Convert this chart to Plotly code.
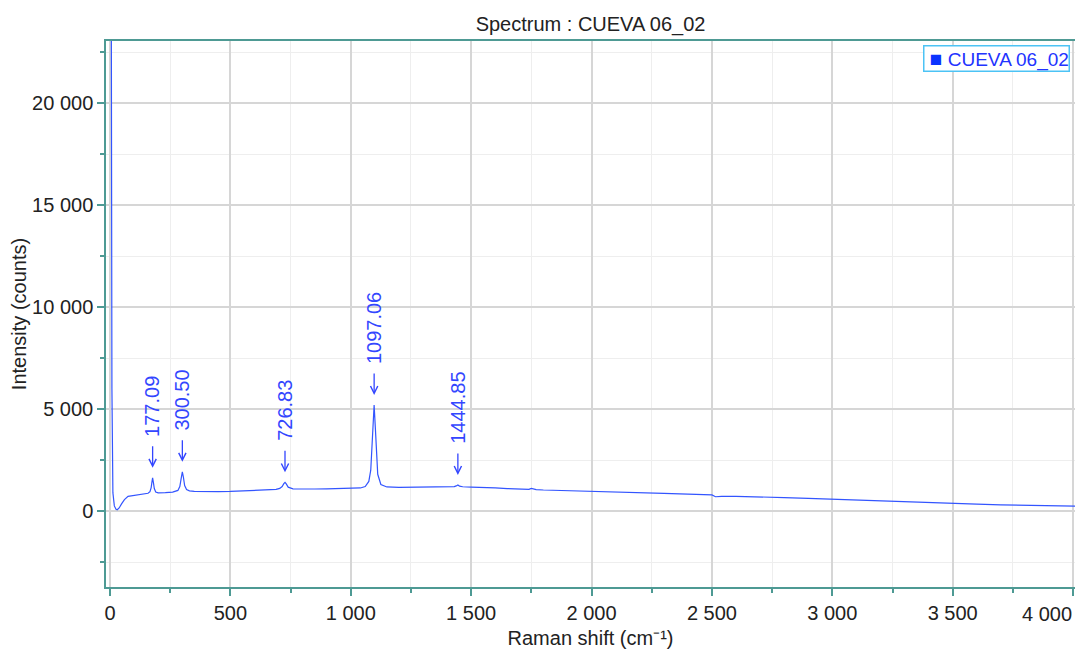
import plotly.graph_objects as go

# ---- data ----
raman_shift = [3, 5, 8, 12, 18, 25, 30, 38, 48, 60, 75, 100, 130, 150, 158, 166, 171, 174, 177, 180,
               184, 190, 200, 230, 260, 282, 290, 295, 300.5, 305, 310, 318, 330, 350, 400, 450,
               500, 550, 600, 650, 690, 705, 715, 722, 727, 732, 740, 760, 800, 850, 900, 950, 1000,
               1040, 1060, 1075, 1083, 1088, 1092, 1097, 1102, 1106, 1112, 1125, 1150, 1200, 1250,
               1300, 1350, 1400, 1430, 1438, 1445, 1452, 1465, 1500, 1550, 1600, 1650, 1700, 1740,
               1750, 1758, 1770, 1800, 1900, 2000, 2100, 2200, 2300, 2400, 2480, 2500, 2515, 2540,
               2600, 2700, 2800, 2900, 3000, 3100, 3200, 3300, 3400, 3500, 3600, 3700, 3800, 3900,
               4000, 4012]
intensity = [30000, 28000, 6000, 900, 250, 80, 60, 150, 350, 560, 720, 760, 800, 840, 870, 950,
             1150, 1400, 1630, 1420, 1100, 930, 890, 900, 930, 1010, 1200, 1550, 1925, 1650, 1250,
             1050, 990, 960, 940, 950, 960, 980, 995, 1020, 1060, 1110, 1200, 1340, 1405, 1330,
             1170, 1090, 1070, 1080, 1090, 1100, 1110, 1130, 1200, 1450, 2000, 3000, 4200, 5200,
             4100, 2900, 1800, 1300, 1180, 1160, 1160, 1170, 1180, 1190, 1195, 1230, 1280, 1220,
             1190, 1170, 1160, 1130, 1100, 1080, 1060, 1110, 1090, 1050, 1030, 990, 960, 930, 890,
             860, 830, 800, 790, 700, 720, 720, 700, 660, 620, 575, 535, 495, 450, 405, 365, 335,
             305, 280, 260, 245, 240]

peak_positions = [177.09, 300.50, 726.83, 1097.06, 1444.85]
peak_heights = [1630, 1925, 1405, 5200, 1280]
peak_labels = ["177.09", "300.50", "726.83", "1097.06", "1444.85"]

x_tickvals = [0, 500, 1000, 1500, 2000, 2500, 3000, 3500, 4000]
x_ticktext = ["0", "500", "1 000", "1 500", "2 000", "2 500", "3 000", "3 500", "4 000"]
y_tickvals = [0, 5000, 10000, 15000, 20000]
y_ticktext = ["0", "5 000", "10 000", "15 000", "20 000"]

series_name = "CUEVA 06_02"

FONT = "Liberation Sans, Arial, sans-serif"
FS = 20
AXIS_COLOR = "#4e9a94"
LINE_COLOR = "#3355ff"
LABEL_COLOR = "#3346ff"
TEXT_COLOR = "#222222"

fig = go.Figure()
fig.add_trace(go.Scatter(x=raman_shift, y=intensity, mode="lines",
                         line=dict(color=LINE_COLOR, width=1.2),
                         name=series_name, showlegend=False))

for px, ph, lab in zip(peak_positions, peak_heights, peak_labels):
    # arrow pointing down at the peak
    fig.add_annotation(x=px, y=ph, xref="x", yref="y", text="",
                       showarrow=True, arrowhead=5, arrowsize=1.1,
                       arrowwidth=1.3, arrowcolor=LABEL_COLOR, standoff=10,
                       ax=0, ay=-33)
    # rotated peak label above the arrow
    fig.add_annotation(x=px, y=ph, xref="x", yref="y", text=lab,
                       textangle=-90, showarrow=False, yanchor="bottom", xanchor="center",
                       yshift=39, font=dict(family=FONT, size=FS, color=LABEL_COLOR))

# the last x tick label is right-aligned to its tick so it stays inside the page
fig.add_annotation(x=x_tickvals[-1], y=0, xref="x", yref="paper", text=x_ticktext[-1],
                   showarrow=False, xanchor="right", yanchor="middle", yshift=-27, xshift=1,
                   font=dict(family=FONT, size=FS, color=TEXT_COLOR))
shown_ticktext = x_ticktext[:-1] + [""]

# legend box (series name with its square marker)
fig.add_annotation(x=0.9948, y=0.993, xref="paper", yref="paper", xanchor="right",
                   yanchor="top", showarrow=False,
                   text="\u00a0<span style='color:#0a33ff;font-size:21px'>\u25a0</span>\u00a0"
                        + series_name,
                   font=dict(family=FONT, size=19, color="#2233ff"),
                   bgcolor="white", bordercolor="#4cc3f5", borderwidth=1.5, borderpad=0)

fig.update_layout(
    width=1075, height=651,
    margin=dict(l=106, r=0, t=41, b=64),
    paper_bgcolor="white", plot_bgcolor="white",
    font=dict(family=FONT, size=FS, color=TEXT_COLOR),
    showlegend=False,
    title=dict(text="Spectrum : CUEVA 06_02", x=0.5, xref="paper", xanchor="center",
               y=1 - 24 / 651, yref="container", yanchor="middle",
               font=dict(family=FONT, size=FS, color=TEXT_COLOR)),
)

fig.update_xaxes(
    range=[-16.6, 4008], tickvals=x_tickvals, ticktext=shown_ticktext,
    automargin=False,
    showline=True, linecolor=AXIS_COLOR, linewidth=1.5, mirror=True,
    ticks="outside", ticklen=7, tickcolor=AXIS_COLOR, tickwidth=1.5,
    showgrid=True, gridcolor="#d6d6d6", gridwidth=1.5, zeroline=False,
    minor=dict(dtick=250, tick0=0, ticks="outside", ticklen=4, tickcolor=AXIS_COLOR,
               showgrid=True, gridcolor="#eeeeee", gridwidth=1),
    title=dict(text="Raman shift (cm\u207b\u00b9)", standoff=8,
               font=dict(family=FONT, size=FS, color=TEXT_COLOR)),
    tickfont=dict(family=FONT, size=FS, color=TEXT_COLOR),
)
fig.update_yaxes(
    range=[-3725, 23040], tickvals=y_tickvals, ticktext=y_ticktext,
    automargin=False,
    showline=True, linecolor=AXIS_COLOR, linewidth=1.5,
    ticks="outside", ticklen=7, tickcolor=AXIS_COLOR, tickwidth=1.5,
    showgrid=True, gridcolor="#d6d6d6", gridwidth=1.5, zeroline=False,
    minor=dict(dtick=2500, tick0=0, ticks="outside", ticklen=4, tickcolor=AXIS_COLOR,
               showgrid=True, gridcolor="#eeeeee", gridwidth=1),
    title=dict(text="Intensity (counts)", standoff=0,
               font=dict(family=FONT, size=FS, color=TEXT_COLOR)),
    tickfont=dict(family=FONT, size=FS, color=TEXT_COLOR),
)

fig.write_html("out.html", config={"displayModeBar": False},
               post_script="document.body.style.margin='0px';document.body.style.overflow='hidden';")
